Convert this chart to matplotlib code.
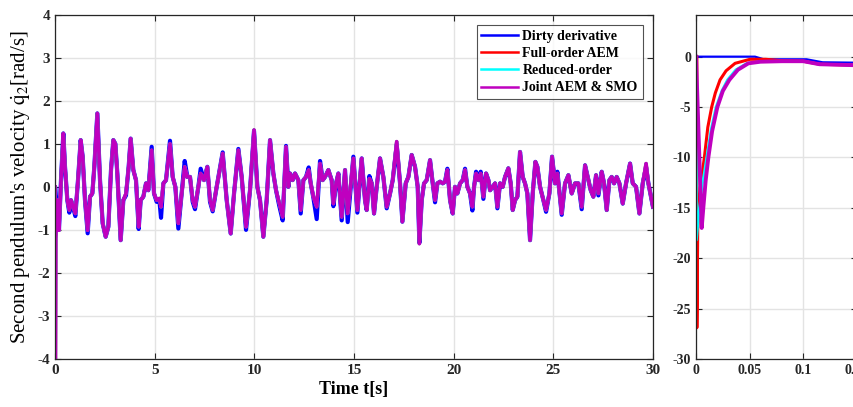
import matplotlib
matplotlib.use("Agg")
import matplotlib.pyplot as plt

plt.rcParams['font.family'] = ['Liberation Serif', 'DejaVu Serif']
plt.rcParams['mathtext.fontset'] = 'stix'
plt.rcParams['axes.unicode_minus'] = False

# main trace (time in s, velocity in rad/s)
t_main = [0, 0.005, 0.02, 0.04, 0.117, 0.2, 0.301, 0.418, 0.502, 0.619, 0.719, 0.803, 0.886, 1.02, 1.154,
          1.288, 1.388, 1.505, 1.639, 1.756, 1.873, 1.973, 2.124, 2.258, 2.392, 2.542, 2.676, 2.81, 2.927, 3.027,
          3.127, 3.295, 3.428, 3.562, 3.696, 3.796, 3.93, 4.064, 4.198, 4.298, 4.432, 4.566, 4.683, 4.85, 4.967,
          5.101, 5.235, 5.319, 5.436, 5.57, 5.77, 5.904, 6.038, 6.189, 6.356, 6.507, 6.64, 6.774, 6.908, 7.025,
          7.192, 7.309, 7.476, 7.643, 7.777, 7.911, 8.112, 8.413, 8.614, 8.815, 8.982, 9.199, 9.366, 9.584, 9.784,
          9.985, 10.152, 10.286, 10.453, 10.62, 10.788, 10.955, 11.089, 11.256, 11.423, 11.59, 11.708, 11.791,
          11.925, 12.042, 12.21, 12.327, 12.461, 12.594, 12.728, 12.829, 12.962, 13.13, 13.297, 13.431, 13.548,
          13.715, 13.882, 13.966, 14.1, 14.217, 14.384, 14.551, 14.685,
          14.969, 15.17, 15.387, 15.554, 15.638, 15.772, 15.889, 16.006, 16.14, 16.307, 16.474, 16.642, 16.809,
          16.943, 17.143, 17.311, 17.428, 17.595, 17.729, 17.896, 18.063, 18.197, 18.281, 18.398, 18.515, 18.649,
          18.816, 18.95, 19.067, 19.184, 19.318, 19.452, 19.569, 19.686, 19.82, 19.953,
          20.07, 20.188, 20.321, 20.455, 20.572, 20.689, 20.823, 20.94, 21.024, 21.124, 21.241, 21.358, 21.492,
          21.626, 21.743, 21.827, 21.961, 22.078, 22.195, 22.328, 22.462, 22.579, 22.746, 22.863, 22.964, 23.081,
          23.198, 23.331, 23.465, 23.582, 23.699, 23.833, 23.967, 24.1, 24.201, 24.335, 24.502, 24.636, 24.803, 24.937,
          25.088, 25.205, 25.422, 25.589, 25.757, 25.924, 26.091, 26.258, 26.425, 26.593, 26.76, 26.877, 27.011,
          27.145, 27.262, 27.429, 27.546, 27.68, 27.814, 27.931, 28.048, 28.182, 28.316, 28.483, 28.65, 28.851,
          28.985, 29.152, 29.319, 29.486, 29.654, 29.771, 30.0]

v_joint = [0, -17, -4.5, -1.2, -0.31, -1.01, 0.155, 1.24, 0.465, -0.31, -0.54, -0.31, -0.43, -0.62, 0.155,
           1.085, 0.70, -0.31, -1.01, -0.23, -0.155, 0.465, 1.705, 0.155, -0.85, -1.16, -0.93, 0.39, 1.085, 1.0,
           0.31, -1.24, -0.31, -0.155, 0.465, 1.12, 0.39, 0.155, -0.93, -0.31, -0.23, 0.08, -0.08, 0.85, -0.155,
           -0.31, -0.27, -0.465, 0.08, 0.155, 1.0, 0.23, 0, -0.85, -0.155, 0.465, 0.23, 0.23, -0.31, -0.465,
           0, 0.31, 0.155, 0.465, -0.31, -0.54, 0, 0.775, -0.31, -1.085, -0.155, 0.85, 0.23, -0.93, -0.08,
           1.32, 0, -0.31, -1.16, -0.31, 1.085, 0.31, -0.08, -0.39, -0.70, 0.93, 0, 0.31,
           0.155, 0.31, 0.155, -0.54, 0.155, 0.23, 0.39, 0.08, -0.23, -0.465, 0.54, 0.155, 0.23,
           0.39, 0.155, -0.39, 0.08, 0.31, -0.70, 0.39, -0.62,
           0.66, -0.54, 0.66, -0.31, -0.54, 0.19, 0.08, -0.62, 0, 0.66, 0.23, -0.465, -0.155,
           0.155, 1.05, 0.08, -0.81, 0.08, 0.23, 0.74, 0.465, 0, -1.32, -0.31, 0.08, 0.155,
           0.62, 0.08, -0.31, 0.08, 0.12, 0.08, 0.12, 0.39, -0.31, -0.62,
           0, -0.155, 0.08, 0.155, 0.39, 0, -0.155, -0.465, 0, 0.31, 0.155, 0.31, -0.23,
           0.31, 0.155, -0.08, 0, 0.08, -0.465, 0.08, 0, 0.23, 0.43, 0.08, -0.54, -0.31,
           -0.23, 0.81, 0.23, 0.08, -0.155, -1.24, -0.155, 0.58, 0.465, 0, -0.31, -0.54, -0.155, 0.70,
           0.08, 0.31, -0.62, 0.08, 0.27, -0.155, 0.08, 0.08, -0.465, 0.50, 0.155, -0.08, -0.23,
           0.27, -0.155, 0.35, 0.08, -0.54, 0.155, 0.23, 0.08, 0.23, 0.08, -0.39, 0.08, 0.54,
           0.08, 0, -0.62, 0.08, 0.54, 0.08, -0.465]

v_dirty = [0, 0, -0.05, -0.2, -0.35, -1.0, 0.155, 1.24, 0.465, -0.31, -0.6, -0.31, -0.43, -0.68, 0.155,
           1.085, 0.70, -0.31, -1.08, -0.23, -0.155, 0.465, 1.705, 0.155, -0.85, -1.16, -0.93, 0.39, 1.085, 1.0,
           0.31, -1.24, -0.31, -0.2, 0.465, 1.12, 0.39, 0.155, -0.98, -0.31, -0.23, 0.08, -0.08, 0.93, -0.155,
           -0.35, -0.3, -0.72, 0.08, 0.155, 1.07, 0.23, 0, -0.97, -0.155, 0.6, 0.23, 0.23, -0.35, -0.52,
           0, 0.42, 0.155, 0.465, -0.35, -0.57, 0, 0.8, -0.31, -1.085, -0.155, 0.88, 0.23, -1.0, -0.08,
           1.3, 0, -0.31, -1.16, -0.31, 1.085, 0.31, -0.08, -0.45, -0.78, 0.95, 0, 0.31,
           0.155, 0.31, 0.155, -0.62, 0.155, 0.23, 0.45, 0.08, -0.25, -0.75, 0.6, 0.155, 0.23,
           0.39, 0.155, -0.45, 0.08, 0.31, -0.78, 0.39, -0.82,
           0.7, -0.6, 0.66, -0.31, -0.54, 0.25, 0.08, -0.62, 0, 0.66, 0.23, -0.5, -0.155,
           0.155, 0.98, 0.08, -0.81, 0.08, 0.23, 0.74, 0.465, 0, -1.3, -0.31, 0.08, 0.155,
           0.62, 0.08, -0.36, 0.08, 0.12, 0.08, 0.12, 0.42, -0.31, -0.62,
           0, -0.155, 0.08, 0.155, 0.42, 0, -0.155, -0.55, 0, 0.35, 0.155, 0.35, -0.28,
           0.31, 0.155, -0.08, 0, 0.08, -0.5, 0.08, 0, 0.23, 0.43, 0.08, -0.54, -0.31,
           -0.23, 0.81, 0.23, 0.08, -0.155, -1.24, -0.155, 0.58, 0.465, 0, -0.31, -0.58, -0.155, 0.70,
           0.08, 0.35, -0.65, 0.08, 0.27, -0.155, 0.08, 0.08, -0.52, 0.50, 0.155, -0.08, -0.23,
           0.27, -0.2, 0.35, 0.08, -0.54, 0.155, 0.23, 0.08, 0.23, 0.08, -0.39, 0.08, 0.54,
           0.08, 0, -0.62, 0.08, 0.45, 0.08, -0.465]

# full-order and reduced-order sit right under the joint trace in the main view
v_full = v_joint
v_reduced = v_joint

# zoomed start (right panel)
t_in_dirty = [0, 0.055, 0.063, 0.103, 0.118, 0.15]
v_in_dirty = [0, 0, -0.26, -0.26, -0.56, -0.6]
t_in_full = [0.0008, 0.0008, 0.0016, 0.004, 0.0078, 0.011, 0.0146, 0.018, 0.0224, 0.028, 0.0364, 0.0503,
             0.065, 0.08, 0.1, 0.115, 0.15]
v_in_full = [0, -26.9, -17.2, -13, -10, -7, -5, -3.6, -2.3, -1.4, -0.66, -0.26,
             -0.26, -0.4, -0.45, -0.75, -0.85]
t_in_reduced = [0.0005, 0.0005, 0.0031, 0.0065, 0.0099, 0.014, 0.0186, 0.024, 0.0292, 0.037, 0.0472, 0.06,
                0.08, 0.1, 0.115, 0.15]
v_in_reduced = [0, -18.2, -15, -12.3, -10, -7.2, -5, -3.4, -2.3, -1.3, -0.66, -0.5,
                -0.45, -0.45, -0.75, -0.85]
t_in_joint = [0, 0.0053, 0.0068, 0.009, 0.0115, 0.015, 0.0199, 0.025, 0.0311, 0.039, 0.0488, 0.06,
              0.08, 0.1, 0.115, 0.15]
v_in_joint = [0, -17, -15, -12.3, -10, -7.4, -5, -3.4, -2.3, -1.3, -0.66, -0.5,
              -0.45, -0.45, -0.75, -0.85]

labels = ['Dirty derivative', 'Full-order AEM', 'Reduced-order', 'Joint AEM & SMO']
colors = ['#0000ff', '#ff0000', '#00ffff', '#bf00bf']

assert len(t_main) == len(v_joint) == len(v_dirty)

fig = plt.figure(figsize=(8.54, 4.07), dpi=100)
ax = fig.add_axes([0.0644, 0.118, 0.7002, 0.846])
ax2 = fig.add_axes([0.815, 0.118, 0.1885, 0.846])


def style(a):
    a.grid(True, color='#e3e3e3', lw=1.0)
    a.set_axisbelow(True)
    a.tick_params(direction='in', top=True, right=True, length=4, width=0.8,
                  colors='#262626', labelsize=11)
    for lab in a.get_xticklabels() + a.get_yticklabels():
        lab.set_fontweight('bold')
    for s in a.spines.values():
        s.set_color('#262626')
        s.set_linewidth(0.9)


ax.plot(t_main, v_dirty, color=colors[0], lw=3.0, label=labels[0], solid_joinstyle='round')
ax.plot(t_main, v_full, color=colors[1], lw=2.4, label=labels[1], solid_joinstyle='round')
ax.plot(t_main, v_reduced, color=colors[2], lw=2.4, label=labels[2], solid_joinstyle='round')
ax.plot(t_main, v_joint, color=colors[3], lw=2.6, label=labels[3], solid_joinstyle='round')
ax.set_xlim(0, 30)
ax.set_ylim(-4, 4)
ax.set_xticks(range(0, 31, 5))
ax.set_yticks(range(-4, 5))
style(ax)
ax.set_xlabel('Time t[s]', fontsize=13, fontweight='bold', labelpad=3)
ax.set_ylabel(r"Second pendulum's velocity $\dot{\mathrm{q}}_2$[rad/s]", fontsize=15, labelpad=3)

leg = ax.legend(loc='upper right', prop={'weight': 'bold', 'size': 10},
                frameon=True, fancybox=False, borderaxespad=0.75, handlelength=2.6,
                handletextpad=0.35, labelspacing=0.3, borderpad=0.35)
leg.get_frame().set_edgecolor('#262626')
leg.get_frame().set_linewidth(0.8)
for ln in leg.get_lines():
    ln.set_linewidth(1.8)

ax2.plot(t_in_dirty, v_in_dirty, color=colors[0], lw=1.6)
ax2.plot(t_in_full, v_in_full, color=colors[1], lw=2.2)
ax2.plot(t_in_reduced, v_in_reduced, color=colors[2], lw=1.8)
ax2.plot(t_in_joint, v_in_joint, color=colors[3], lw=2.8)
ax2.set_xlim(0, 0.15)
ax2.set_ylim(-30, 4.17)
ax2.set_xticks([0, 0.05, 0.1, 0.15])
ax2.set_xticklabels(['0', '0.05', '0.1', '0.15'])
ax2.set_yticks(range(-30, 1, 5))
style(ax2)
ax2.tick_params(labelsize=10)

fig.savefig('out.png', dpi=100)
